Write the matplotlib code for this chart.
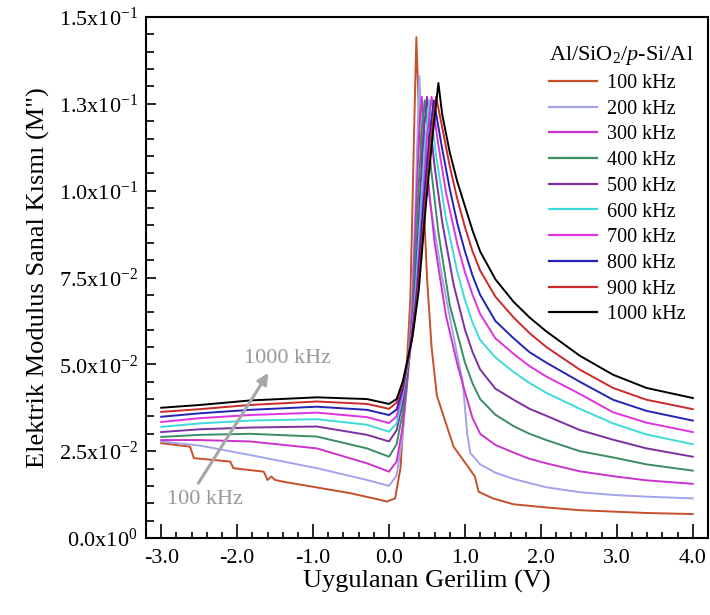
import matplotlib
matplotlib.use("Agg")
import matplotlib.pyplot as plt
from matplotlib.ticker import MultipleLocator, FixedLocator

plt.rcParams['font.family'] = ['Liberation Serif', 'DejaVu Serif']
plt.rcParams['mathtext.fontset'] = 'custom'
plt.rcParams['mathtext.rm'] = 'Liberation Serif'
plt.rcParams['mathtext.it'] = 'Liberation Serif:italic'
plt.rcParams['axes.unicode_minus'] = False

# ---------------- data ----------------
freq_labels = ["100 kHz", "200 kHz", "300 kHz", "400 kHz", "500 kHz",
               "600 kHz", "700 kHz", "800 kHz", "900 kHz", "1000 kHz"]
colors = ["#c4512b", "#a3a3ec", "#cc33cc", "#3c8c64", "#7f2f9f",
          "#3ddbdb", "#e033e0", "#2323b4", "#cc2a2a", "#000000"]

v_100 = [-3.0, -2.62, -2.57, -2.09, -2.05, -1.65, -1.60, -1.55, -1.50, -1.39, -0.51, -0.12, -0.03,
         0.08, 0.15, 0.21, 0.28, 0.31, 0.33, 0.36, 0.40, 0.45, 0.50, 0.56, 0.63, 0.85, 1.07, 1.13,
         1.18, 1.37, 1.64, 2.07, 2.51, 2.95, 3.39, 4.0]
m_100 = [0.0273, 0.0263, 0.0230, 0.0220, 0.0201, 0.0191, 0.0167, 0.0177, 0.0167, 0.0162, 0.0129, 0.0110,
         0.0105, 0.0114, 0.0200, 0.0400, 0.0686, 0.0970, 0.1170, 0.1442, 0.1180, 0.1000, 0.0750, 0.0550,
         0.0410, 0.0263, 0.0196, 0.0177, 0.0133, 0.0114, 0.0097, 0.0088, 0.0080, 0.0076, 0.0072, 0.0069]

v_200 = [-3.0, -2.49, -1.83, -0.95, -0.29, 0.0, 0.10, 0.17, 0.23, 0.30, 0.35, 0.38, 0.40, 0.43, 0.50,
         0.70, 0.85, 0.97, 1.03, 1.07, 1.2, 1.4, 1.64, 1.85, 2.07, 2.51, 2.95, 3.39, 4.0]
m_200 = [0.0278, 0.0266, 0.0239, 0.0201, 0.0167, 0.0150, 0.0180, 0.0280, 0.0420, 0.0680, 0.0970, 0.1200,
         0.1330, 0.1180, 0.1020, 0.0750, 0.0580, 0.0450, 0.0300, 0.0245, 0.0212, 0.0188, 0.0170, 0.0158,
         0.0146, 0.0132, 0.0124, 0.0119, 0.0114]

v_300 = [-3.0, -2.49, -1.83, -0.95, -0.29, 0.0, 0.10, 0.18, 0.25, 0.31, 0.36, 0.40, 0.43, 0.50, 0.60,
         0.75, 0.90, 1.0, 1.1, 1.2, 1.4, 1.64, 1.85, 2.07, 2.51, 2.95, 3.39, 4.0]
m_300 = [0.0282, 0.0282, 0.0278, 0.0258, 0.0215, 0.0191, 0.0220, 0.0320, 0.0470, 0.0680, 0.0970, 0.1180,
         0.1270, 0.1060, 0.0850, 0.0640, 0.0500, 0.0420, 0.0345, 0.0300, 0.0268, 0.0246, 0.0228, 0.0215,
         0.0192, 0.0178, 0.0166, 0.0156]

v_400 = [-3.0, -2.49, -1.83, -0.95, -0.29, 0.0, 0.10, 0.18, 0.26, 0.32, 0.38, 0.43, 0.47, 0.55, 0.65,
         0.80, 1.0, 1.1, 1.2, 1.4, 1.64, 1.85, 2.07, 2.51, 2.95, 3.39, 4.0]
m_400 = [0.0291, 0.0297, 0.0300, 0.0292, 0.0258, 0.0234, 0.0270, 0.0360, 0.0500, 0.0680, 0.0970, 0.1170,
         0.1260, 0.1070, 0.0880, 0.0670, 0.0505, 0.0445, 0.0400, 0.0355, 0.0322, 0.0300, 0.0282, 0.0250,
         0.0232, 0.0212, 0.0194]

v_500 = [-3.0, -2.49, -1.83, -0.95, -0.29, 0.0, 0.10, 0.18, 0.27, 0.34, 0.40, 0.45, 0.50, 0.60, 0.70,
         0.85, 1.0, 1.1, 1.2, 1.4, 1.64, 1.85, 2.07, 2.51, 2.95, 3.39, 4.0]
m_500 = [0.0305, 0.0313, 0.0318, 0.0321, 0.0297, 0.0278, 0.0310, 0.0390, 0.0520, 0.0700, 0.0950, 0.1150,
         0.1270, 0.1070, 0.0910, 0.0730, 0.0600, 0.0535, 0.0485, 0.0430, 0.0398, 0.0372, 0.0352, 0.0311,
         0.0283, 0.0258, 0.0234]

v_600 = [-3.0, -2.49, -1.83, -0.95, -0.29, 0.0, 0.10, 0.18, 0.28, 0.35, 0.42, 0.48, 0.53, 0.62, 0.75,
         0.90, 1.0, 1.1, 1.2, 1.4, 1.64, 1.85, 2.07, 2.51, 2.95, 3.39, 4.0]
m_600 = [0.0320, 0.0330, 0.0338, 0.0342, 0.0326, 0.0306, 0.0330, 0.0410, 0.0540, 0.0710, 0.0950, 0.1150,
         0.1260, 0.1100, 0.0920, 0.0765, 0.0685, 0.0620, 0.0570, 0.0520, 0.0478, 0.0446, 0.0418, 0.0372,
         0.0330, 0.0298, 0.0270]

v_700 = [-3.0, -2.49, -1.83, -0.95, -0.29, 0.0, 0.10, 0.18, 0.28, 0.36, 0.44, 0.50, 0.56, 0.65, 0.75,
         0.90, 1.0, 1.1, 1.2, 1.4, 1.64, 1.85, 2.07, 2.51, 2.95, 3.39, 4.0]
m_700 = [0.0334, 0.0345, 0.0354, 0.0361, 0.0348, 0.0331, 0.0350, 0.0420, 0.0550, 0.0710, 0.0950, 0.1150,
         0.1270, 0.1130, 0.0995, 0.0845, 0.0765, 0.0700, 0.0645, 0.0575, 0.0530, 0.0495, 0.0465, 0.0415,
         0.0362, 0.0332, 0.0305]

v_800 = [-3.0, -2.49, -1.83, -0.95, -0.29, 0.0, 0.10, 0.18, 0.29, 0.37, 0.45, 0.53, 0.59, 0.70, 0.80,
         0.90, 1.0, 1.1, 1.2, 1.4, 1.64, 1.85, 2.07, 2.51, 2.95, 3.39, 4.0]
m_800 = [0.0349, 0.0359, 0.0369, 0.0378, 0.0369, 0.0354, 0.0370, 0.0430, 0.0560, 0.0710, 0.0950, 0.1150,
         0.1260, 0.1120, 0.1005, 0.0905, 0.0825, 0.0755, 0.0700, 0.0625, 0.0575, 0.0535, 0.0505, 0.0450,
         0.0398, 0.0366, 0.0338]

v_900 = [-3.0, -2.49, -1.83, -0.95, -0.29, 0.0, 0.10, 0.18, 0.30, 0.38, 0.47, 0.55, 0.62, 0.72, 0.80,
         0.90, 1.0, 1.1, 1.2, 1.4, 1.64, 1.85, 2.07, 2.51, 2.95, 3.39, 4.0]
m_900 = [0.0363, 0.0371, 0.0383, 0.0393, 0.0386, 0.0372, 0.0390, 0.0440, 0.0570, 0.0710, 0.0950, 0.1150,
         0.1270, 0.1160, 0.1070, 0.0975, 0.0895, 0.0825, 0.0770, 0.0695, 0.0635, 0.0590, 0.0550, 0.0485,
         0.0432, 0.0398, 0.0371]

v_1000 = [-3.0, -2.49, -1.83, -0.95, -0.29, 0.0, 0.10, 0.18, 0.31, 0.39, 0.49, 0.58, 0.65, 0.70, 0.80,
          0.90, 1.0, 1.1, 1.2, 1.4, 1.64, 1.85, 2.07, 2.51, 2.95, 3.39, 4.0]
m_1000 = [0.0375, 0.0383, 0.0396, 0.0405, 0.0400, 0.0386, 0.0400, 0.0450, 0.0580, 0.0710, 0.0970, 0.1170,
          0.1310, 0.1220, 0.1110, 0.1025, 0.0955, 0.0885, 0.0825, 0.0745, 0.0680, 0.0635, 0.0595, 0.0525,
          0.0470, 0.0432, 0.0403]

voltages = [v_100, v_200, v_300, v_400, v_500, v_600, v_700, v_800, v_900, v_1000]
moduli = [m_100, m_200, m_300, m_400, m_500, m_600, m_700, m_800, m_900, m_1000]

xtick_vals = [-3.0, -2.0, -1.0, 0.0, 1.0, 2.0, 3.0, 4.0]
xtick_labels = ["-3.0", "-2.0", "-1.0", "0.0", "1.0", "2.0", "3.0", "4.0"]
ytick_vals = [0.0, 0.025, 0.05, 0.075, 0.10, 0.125, 0.15]
ytick_mant = ["0.0", "2.5", "5.0", "7.5", "1.0", "1.3", "1.5"]
ytick_exp = ["0", "-2", "-2", "-2", "-1", "-1", "-1"]

# ---------------- figure ----------------
W, H = 710, 615
fig = plt.figure(figsize=(W / 100, H / 100), dpi=100)
ax_left, ax_right, ax_top, ax_bottom = 146, 708, 17, 538
ax = fig.add_axes([ax_left / W, (H - ax_bottom) / H, (ax_right - ax_left) / W, (ax_bottom - ax_top) / H])

for v, m, c, lab in zip(voltages, moduli, colors, freq_labels):
    ax.plot(v, m, color=c, lw=1.4, label=lab, solid_joinstyle='round')

ax.set_xlim(-3.2, 4.2)
ax.set_ylim(0.0, 0.15)

ax.xaxis.set_major_locator(FixedLocator(xtick_vals))
ax.set_xticklabels(xtick_labels)
ax.xaxis.set_minor_locator(MultipleLocator(0.2))
ax.yaxis.set_major_locator(FixedLocator(ytick_vals))
ax.set_yticklabels([f"{mt}x10$^{{{ex}}}$" for mt, ex in zip(ytick_mant, ytick_exp)])
ax.yaxis.set_minor_locator(MultipleLocator(0.005))

ax.tick_params(axis='both', which='both', direction='in', labelsize=16, width=1.2)
ax.tick_params(axis='x', which='major', length=10, pad=8)
ax.tick_params(axis='x', which='minor', length=4.5)
ax.tick_params(axis='y', which='major', length=7, pad=6)
ax.tick_params(axis='y', which='minor', length=6)
for s in ax.spines.values():
    s.set_linewidth(1.5)

ax.set_xlabel("Uygulanan Gerilim (V)", fontsize=19, labelpad=1)
ax.set_ylabel("Elektrik Modulus Sanal Kısmı (M\")", fontsize=19, labelpad=6)

# annotation arrow
ax.annotate("", xy=(-1.59, 0.0475), xytext=(-2.51, 0.0158),
            arrowprops=dict(arrowstyle='-|>', color='#a6a6a6', lw=2.2, mutation_scale=16,
                            shrinkA=0, shrinkB=0))
ax.text(-1.34, 0.0516, "1000 kHz", color='#999999', fontsize=16, ha='center', va='center')
ax.text(-2.42, 0.0112, "100 kHz", color='#999999', fontsize=16, ha='center', va='center')

leg = ax.legend(loc='upper left', bbox_to_anchor=(539 / W, 1 - 34 / H), bbox_transform=fig.transFigure,
                frameon=False, fontsize=14.5, title=r"Al/SiO$_2$/$p$-Si/Al", title_fontsize=16,
                handlelength=2.4, handletextpad=0.5, labelspacing=0.33, borderpad=0,
                alignment='left')
for ln in leg.get_lines():
    ln.set_linewidth(1.6)

fig.savefig("out.png", dpi=100)
